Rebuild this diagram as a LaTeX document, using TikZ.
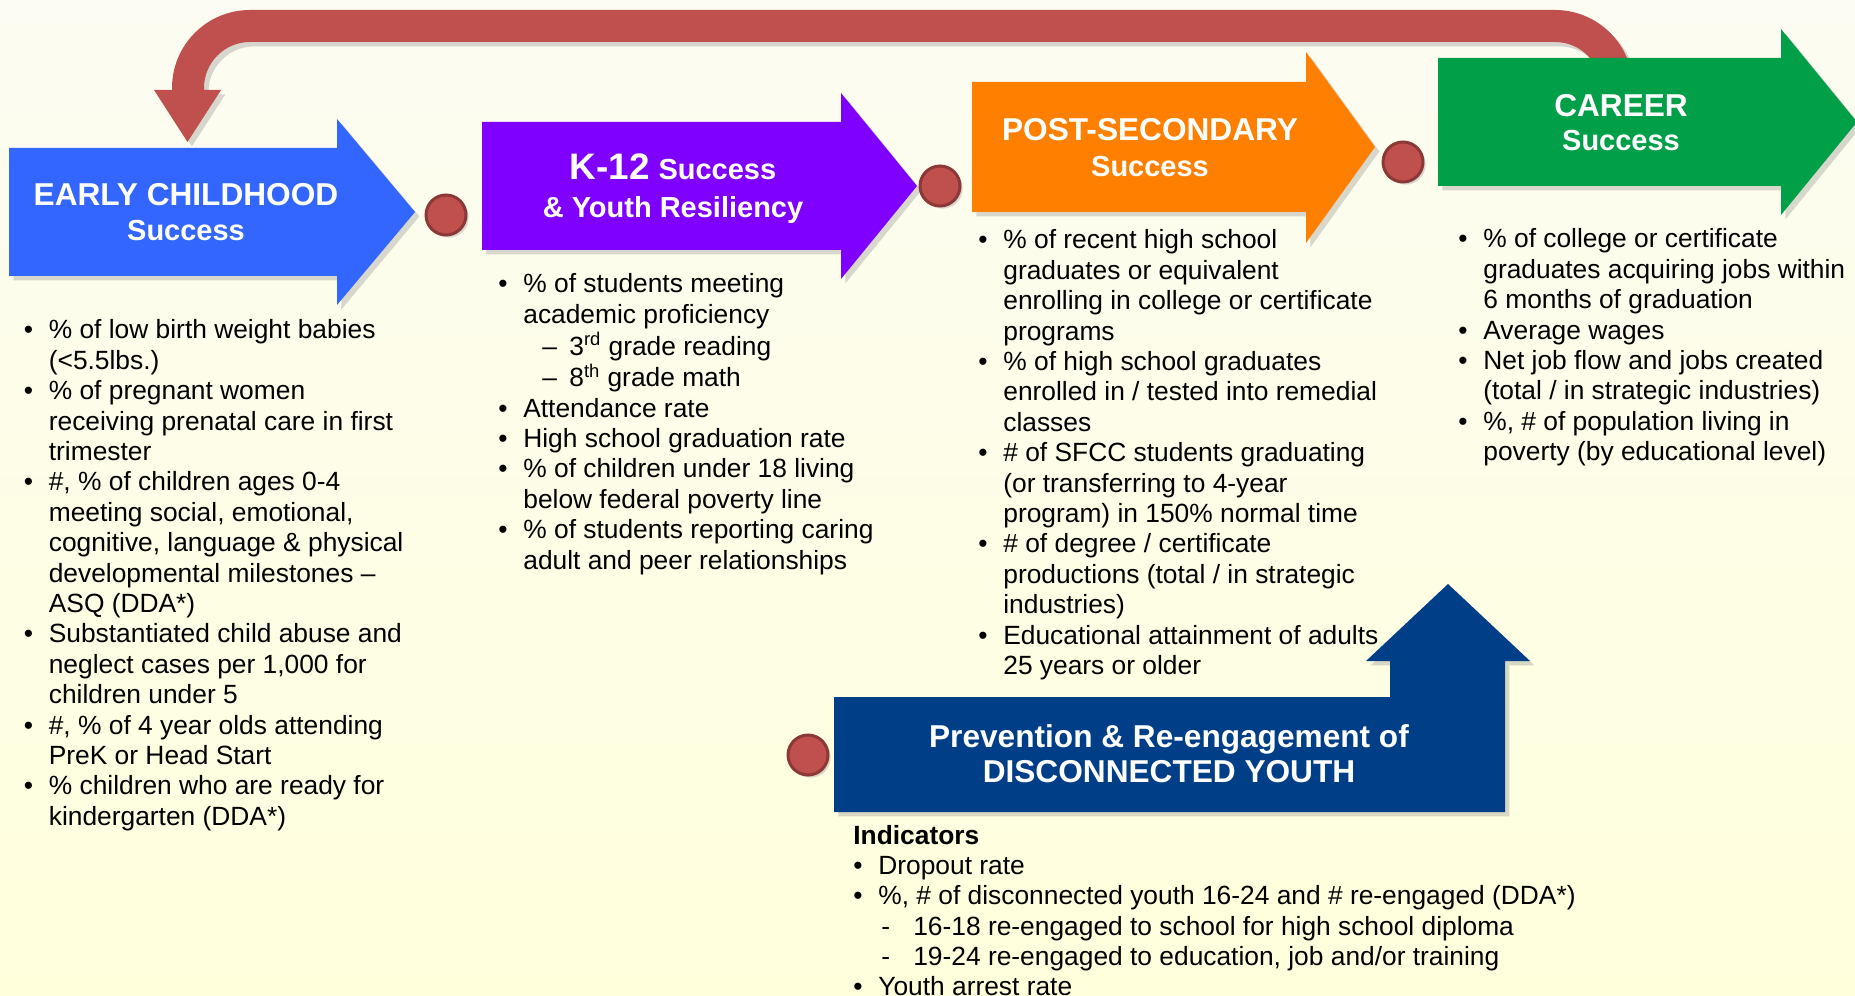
\documentclass[tikz,border=0pt]{standalone}
\usepackage{fontspec}
\setmainfont{Liberation Sans}
\usetikzlibrary{shadows,positioning}

\definecolor{ecblue}{HTML}{3366FF}
\definecolor{kpurple}{HTML}{8000FF}
\definecolor{psorange}{HTML}{FF8000}
\definecolor{cgreen}{HTML}{009F48}
\definecolor{dynavy}{HTML}{003F87}
\definecolor{loopred}{HTML}{C0504D}
\definecolor{dotrim}{HTML}{8C3836}
\definecolor{bgtop}{HTML}{FCFCF2}
\definecolor{bgbot}{HTML}{FFFFDC}

\newcommand{\bodyfont}{\fontsize{15}{17.3}\selectfont}
\newcommand{\hdfont}{\fontsize{18}{20}\selectfont\bfseries}
\newcommand{\subfont}{\fontsize{16.5}{19}\selectfont\bfseries}

\tikzset{
  stage/.style={drop shadow={shadow xshift=2.5pt, shadow yshift=-2.5pt, opacity=0.3}},
  title/.style={text=white, anchor=base, inner sep=0pt, font=\hdfont},
  subtitle/.style={title, font=\subfont},
  dot/.style={circle, fill=loopred, draw=dotrim, line width=1.7pt, minimum size=0.8cm,
    inner sep=0pt, drop shadow={shadow xshift=1.5pt, shadow yshift=-1.5pt, opacity=0.3}},
  list/.style={anchor=base west, inner sep=0pt, font=\bodyfont}
}

\begin{document}
\begin{tikzpicture}[x=0.02cm, y=-0.02cm]
  \useasboundingbox (0,0) rectangle (1855,996);
  \shade[top color=bgtop, bottom color=bgbot] (0,0) rectangle (1855,996);

  % Feedback loop from career back to early childhood
  \fill[loopred, stage] (172,90) -- (172,88) arc(180:270:78) -- (1555,10) arc(270:360:78)
    -- (1633,100) -- (1601,100) -- (1601,88) arc(0:-90:46) -- (250,42) arc(-90:-180:46)
    -- (204,90) -- (221,90) -- (187.5,142) -- (154,90) -- cycle;

  % Stage arrows
  \fill[ecblue, stage] (9,148) -- (337,148) -- (337,119) -- (415,212) -- (337,305) -- (337,276) -- (9,276) -- cycle;
  \fill[kpurple, stage] (482,122) -- (841,122) -- (841,93) -- (917,186) -- (841,279) -- (841,250) -- (482,250) -- cycle;
  \fill[psorange, stage] (972,82) -- (1306,82) -- (1306,52) -- (1375,147) -- (1306,243) -- (1306,212) -- (972,212) -- cycle;
  \fill[cgreen, stage] (1438,58) -- (1781,58) -- (1781,29) -- (1857,122) -- (1781,215) -- (1781,186) -- (1438,186) -- cycle;
  \fill[dynavy, stage] (834,697) -- (1390,697) -- (1390,661) -- (1366,661) -- (1448,584) -- (1530,661)
    -- (1505,661) -- (1505,812) -- (834,812) -- cycle;

  % Dots between stages
  \node[dot] (d1) at (446,215) {};
  \node[dot] (d2) at (940,186) {};
  \node[dot] (d3) at (1403,162) {};
  \node[dot] (d4) at (808,755) {};

  % Titles
  \node[title] (ecA) at (186,206) {EARLY CHILDHOOD};
  \node[subtitle] (ecB) at (186,241) {Success};
  \node[title] (kA) at (673,180) {{\fontsize{21}{24}\selectfont K-12} {\subfont Success}};
  \node[subtitle] (kB) at (673,218) {\& Youth Resiliency};
  \node[title] (psA) at (1150,141) {POST-SECONDARY};
  \node[subtitle] (psB) at (1150,177) {Success};
  \node[title] (crA) at (1621,117) {CAREER};
  \node[subtitle] (crB) at (1621,151) {Success};
  \node[title] (dyA) at (1169,747) {Prevention \& Re-engagement of};
  \node[title] (dyB) at (1169,782) {DISCONNECTED YOUTH};

  % Indicator lists
  \node[list] (eclist) at (23.5,339) {\begin{tabular}[t]{@{}p{0.5cm}@{}l@{}}
    \textbullet & \% of low birth weight babies\\
     & (<5.5lbs.)\\
    \textbullet & \% of pregnant women\\
     & receiving prenatal care in first\\
     & trimester\\
    \textbullet & \#, \% of children ages 0-4\\
     & meeting social, emotional,\\
     & cognitive, language \& physical\\
     & developmental milestones --\\
     & ASQ (DDA*)\\
    \textbullet & Substantiated child abuse and\\
     & neglect cases per 1,000 for\\
     & children under 5\\
    \textbullet & \#, \% of 4 year olds attending\\
     & PreK or Head Start\\
    \textbullet & \% children who are ready for\\
     & kindergarten (DDA*)
  \end{tabular}};

  \node[list] (klist) at (498,293) {\begin{tabular}[t]{@{}p{0.5cm}@{}l@{}}
    \textbullet & \% of students meeting\\
     & academic proficiency\\
     & \hspace*{0.38cm}\makebox[0.54cm][l]{--}3\textsuperscript{rd} grade reading\\
     & \hspace*{0.38cm}\makebox[0.54cm][l]{--}8\textsuperscript{th} grade math\\
    \textbullet & Attendance rate\\
    \textbullet & High school graduation rate\\
    \textbullet & \% of children under 18 living\\
     & below federal poverty line\\
    \textbullet & \% of students reporting caring\\
     & adult and peer relationships
  \end{tabular}};

  \node[list] (pslist) at (978,249) {\begin{tabular}[t]{@{}p{0.5cm}@{}l@{}}
    \textbullet & \% of recent high school\\
     & graduates or equivalent\\
     & enrolling in college or certificate\\
     & programs\\
    \textbullet & \% of high school graduates\\
     & enrolled in / tested into remedial\\
     & classes\\
    \textbullet & \# of SFCC students graduating\\
     & (or transferring to 4-year\\
     & program) in 150\% normal time\\
    \textbullet & \# of degree / certificate\\
     & productions (total / in strategic\\
     & industries)\\
    \textbullet & Educational attainment of adults\\
     & 25 years or older
  \end{tabular}};

  \node[list] (crlist) at (1458,248) {\begin{tabular}[t]{@{}p{0.5cm}@{}l@{}}
    \textbullet & \% of college or certificate\\
     & graduates acquiring jobs within\\
     & 6 months of graduation\\
    \textbullet & Average wages\\
    \textbullet & Net job flow and jobs created\\
     & (total / in strategic industries)\\
    \textbullet & \%, \# of population living in\\
     & poverty (by educational level)
  \end{tabular}};

  \node[list] (dylist) at (853,844) {\begin{tabular}[t]{@{}p{0.5cm}@{}l@{}}
    \multicolumn{2}{@{}l@{}}{\bfseries Indicators}\\
    \textbullet & Dropout rate\\
    \textbullet & \%, \# of disconnected youth 16-24 and \# re-engaged (DDA*)\\
     & \hspace*{0.06cm}\makebox[0.64cm][l]{-}16-18 re-engaged to school for high school diploma\\
     & \hspace*{0.06cm}\makebox[0.64cm][l]{-}19-24 re-engaged to education, job and/or training\\
    \textbullet & Youth arrest rate
  \end{tabular}};
\end{tikzpicture}
\end{document}
